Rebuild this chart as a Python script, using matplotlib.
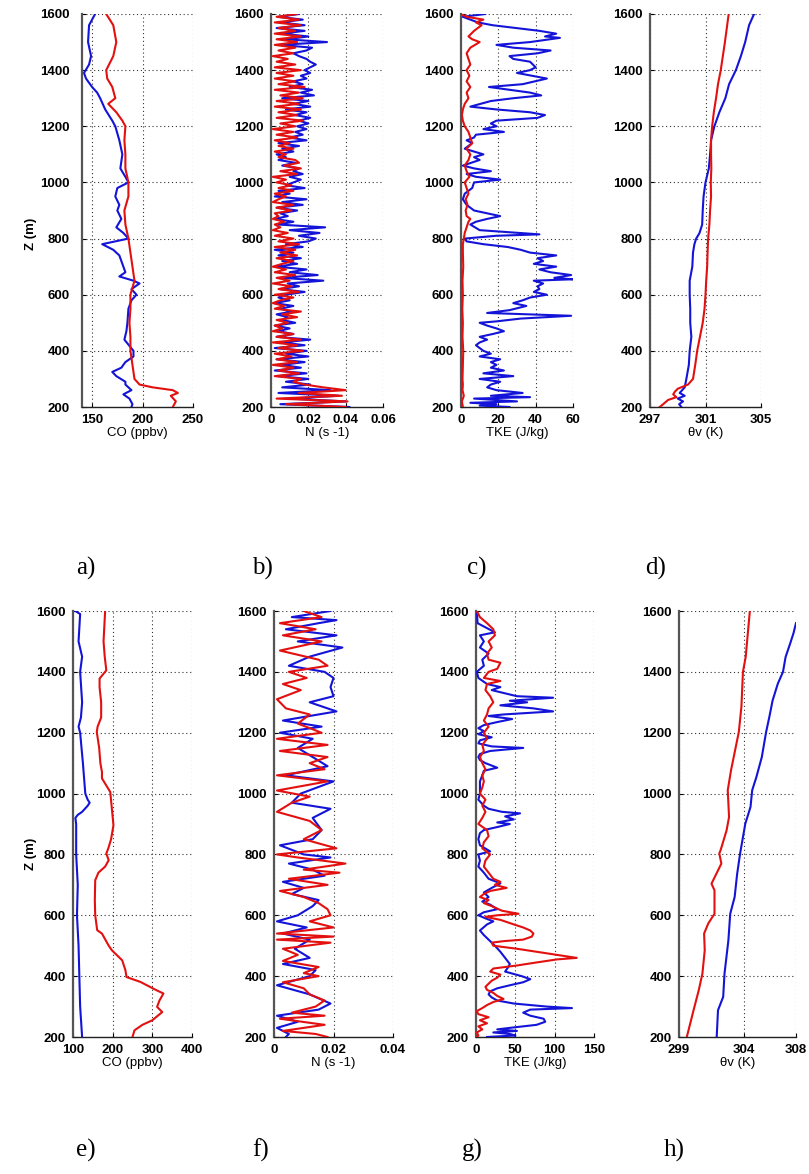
import matplotlib
matplotlib.use("Agg")
import matplotlib.pyplot as plt
from matplotlib.ticker import FixedLocator, FixedFormatter

# ---------------- DATA ----------------
# a) CO (ppbv)
a_blue_z = [200,210,230,245,260,280,290,310,325,340,360,380,400,440,470,500,550,580,600,620,
            640,650,665,680,700,720,740,760,780,800,820,840,870,900,920,950,980,1000,1020,1050,
            1100,1150,1200,1220,1260,1300,1320,1340,1370,1390,1420,1450,1500,1560,1600]
a_blue = [189,190,187,181,189,183,183,174,170,179,183,191,191,182,184,185,186,189,194,189,
          197,191,177,183,181,179,177,171,160,186,181,174,179,175,177,173,175,186,183,178,
          180,177,173,170,163,158,155,150,144,142,147,149,146,147,153]
a_red_z = [200,220,240,250,260,270,280,300,350,400,450,500,550,600,650,700,750,800,850,900,
           950,1000,1050,1100,1150,1200,1220,1250,1280,1300,1340,1370,1400,1450,1500,1560,1600]
a_red = [230,233,228,235,230,210,197,192,190,188,188,187,188,188,192,190,188,186,183,182,
         186,186,183,183,182,183,180,174,166,173,170,165,164,171,174,171,164]

# b) N (s-1), 10 m steps
b_z = list(range(200, 1601, 10))
b_blue = [0.042,0.005,0.040,0.010,0.036,0.004,0.032,0.006,0.021,0.008,
          0.020,0.004,0.019,0.002,0.016,0.006,0.018,0.003,0.020,0.008,
          0.019,0.002,0.018,0.006,0.021,0.003,0.012,0.004,0.010,0.002,
          0.013,0.006,0.009,0.003,0.011,0.005,0.012,0.002,0.010,0.004,
          0.008,0.018,0.005,0.015,0.009,0.028,0.006,0.025,0.010,0.019,
          0.003,0.014,0.006,0.016,0.004,0.012,0.002,0.017,0.008,0.020,
          0.024,0.015,0.026,0.010,0.029,0.004,0.012,0.002,0.009,0.005,
          0.014,0.003,0.017,0.006,0.019,0.002,0.010,0.004,0.018,0.008,
          0.012,0.016,0.010,0.017,0.012,0.015,0.006,0.013,0.004,0.008,
          0.003,0.012,0.006,0.015,0.004,0.019,0.010,0.017,0.013,0.019,
          0.014,0.020,0.015,0.021,0.013,0.019,0.008,0.021,0.012,0.020,
          0.006,0.023,0.016,0.022,0.010,0.017,0.012,0.019,0.016,0.021,
          0.018,0.021,0.024,0.021,0.019,0.015,0.012,0.019,0.022,0.005,
          0.030,0.008,0.020,0.006,0.018,0.003,0.018,0.005,0.017,0.004,
          0.015]
b_red = [0.040,0.008,0.041,0.003,0.038,0.015,0.040,0.028,0.018,0.012,
         0.016,0.002,0.015,0.004,0.012,0.001,0.014,0.003,0.011,0.002,
         0.017,0.004,0.014,0.001,0.016,0.003,0.012,0.001,0.006,0.002,
         0.009,0.003,0.014,0.006,0.016,0.002,0.007,0.001,0.005,0.012,
         0.002,0.015,0.004,0.011,0.001,0.010,0.003,0.013,0.002,0.008,
         0.001,0.006,0.012,0.003,0.014,0.005,0.013,0.002,0.015,0.004,
         0.012,0.002,0.009,0.001,0.005,0.002,0.007,0.001,0.004,0.002,
         0.011,0.003,0.012,0.001,0.004,0.008,0.002,0.012,0.004,0.011,
         0.003,0.008,0.001,0.014,0.005,0.016,0.007,0.015,0.013,0.004,
         0.008,0.002,0.012,0.004,0.010,0.002,0.014,0.003,0.012,0.001,
         0.013,0.005,0.017,0.003,0.014,0.004,0.016,0.002,0.015,0.003,
         0.017,0.005,0.015,0.002,0.018,0.004,0.013,0.002,0.012,0.003,
         0.016,0.002,0.013,0.003,0.009,0.001,0.012,0.004,0.013,0.002,
         0.014,0.003,0.016,0.002,0.013,0.004,0.016,0.002,0.015,0.003,
         0.014]

# c) TKE (J/kg)
c_blue_z = [200,205,210,215,220,230,235,240,250,260,270,280,290,300,310,320,330,340,350,360,
            370,380,390,400,420,430,440,450,460,470,480,490,500,505,515,525,535,545,560,570,
            580,590,600,610,620,630,640,650,655,660,670,680,690,700,710,720,730,740,750,760,
            770,780,790,800,810,815,830,850,860,870,880,900,920,940,960,980,1000,1010,1020,1030,
            1040,1050,1060,1080,1090,1100,1120,1140,1150,1160,1170,1180,1190,1200,1210,1220,1230,1240,1250,1260,
            1270,1290,1300,1310,1320,1330,1340,1350,1370,1390,1400,1410,1430,1440,1450,1460,1470,1480,1490,1500,
            1515,1520,1530,1540,1560,1570,1590,1600]
c_blue = [26,10,19,5,30,7,37,16,33,19,14,16,21,10,28,12,23,16,19,16,
          21,10,16,12,8,10,14,10,17,23,19,14,10,19,32,59,14,26,35,28,
          33,37,46,39,42,41,44,39,60,50,59,48,42,51,39,44,41,51,37,32,
          25,12,3,2,19,42,10,5,8,14,21,7,3,1,2,6,7,21,8,3,
          16,7,1,10,7,12,2,6,3,7,8,23,12,19,16,19,41,45,37,19,
          5,16,28,43,37,26,15,33,46,30,37,40,37,28,26,41,48,28,19,37,
          53,45,51,42,17,9,1,13]
c_red_z = [200,220,240,260,280,300,350,400,450,500,550,600,650,700,750,780,800,820,840,860,
           870,880,900,920,940,960,980,1000,1020,1040,1060,1080,1100,1120,1140,1160,1180,1200,1220,1240,
           1260,1280,1300,1320,1340,1360,1380,1400,1420,1440,1460,1480,1500,1510,1520,1540,1560,1570,1580,1590,1600]
c_red = [1,0.5,1.5,0.8,1,0.8,1,1.2,0.8,1,0.7,1,0.8,1.2,1,1,1.5,2,3,4,
         5,3,2.5,3.5,2.5,4,3,2,4.5,3,2,4,5,3,6,5,4,2,1,0.5,
         1,2,4,3,5,3,4.5,3,5,4,3,5,10,6,4,7,11,8,12,3,0]

# d) theta_v (K)
d_red_z = [200,210,225,235,245,255,265,280,300,350,400,450,500,550,600,650,700,750,800,850,
           900,950,1000,1050,1100,1150,1200,1250,1300,1350,1400,1500,1600]
d_red = [297.7,297.95,298.3,298.9,298.67,298.8,299.0,299.74,300.1,300.26,300.4,300.6,300.8,300.93,301.0,301.05,301.12,301.15,301.19,301.28,
         301.33,301.4,301.38,301.42,301.4,301.4,301.48,301.6,301.76,301.9,302.1,302.4,302.67]
d_blue_z = [200,210,220,230,240,250,270,300,350,400,450,500,550,600,650,700,750,780,800,820,
            850,900,950,1000,1050,1100,1150,1200,1250,1300,1350,1400,1450,1500,1560,1600]
d_blue = [299.26,299.1,299.38,299.0,299.5,299.14,299.5,299.62,299.8,299.86,299.98,299.9,299.9,299.86,299.86,300.05,300.1,300.2,300.33,300.57,
          300.76,300.8,300.86,301.0,301.24,301.33,301.4,301.64,302.0,302.43,302.7,303.19,303.55,303.86,304.14,304.5]

# e) CO (ppbv)
e_blue_z = [200,300,400,500,600,700,800,900,920,930,940,960,970,980,1000,1050,1100,1200,1220,1250,
            1300,1400,1450,1500,1590,1600]
e_blue = [123,118,116,114,110,112,108,108,106,112,123,137,142,137,131,128,125,118,114,120,
          123,118,123,114,118,106]
e_red_z = [200,222,240,255,282,299,320,343,354,381,397,420,452,485,500,540,551,600,650,715,
           740,760,781,803,820,850,896,950,1005,1050,1071,1100,1150,1202,1220,1250,1300,1350,1378,1405,
           1450,1500,1550,1600]
e_red = [250,255,275,300,325,312,318,328,310,270,235,232,224,198,190,173,161,156,155,156,
         164,181,190,184,189,196,202,198,194,173,173,169,166,160,162,171,171,167,167,184,
         180,177,179,181]

# f) N (s-1)
f_blue_z = [200,210,230,250,270,290,310,340,370,400,420,440,460,490,520,540,560,580,600,630,
            650,670,690,710,730,750,770,790,800,830,850,880,920,950,970,1000,1040,1060,1090,1120,
            1150,1180,1200,1220,1240,1270,1300,1320,1350,1380,1400,1420,1450,1480,1500,1520,1540,1560,1570,1580,1600]
f_blue = [0.004,0.005,0.001,0.008,0.001,0.015,0.019,0.012,0.001,0.012,0.014,0.003,0.012,0.007,0.012,0.003,0.011,0.001,0.008,0.013,
          0.015,0.006,0.010,0.003,0.017,0.013,0.005,0.019,0.010,0.002,0.013,0.016,0.013,0.019,0.006,0.009,0.020,0.004,0.018,0.013,
          0.008,0.013,0.002,0.016,0.003,0.021,0.012,0.020,0.019,0.020,0.017,0.005,0.012,0.023,0.008,0.021,0.004,0.015,0.021,0.006,0.019]
f_red_z = [200,210,220,240,260,270,280,300,320,340,360,380,400,410,430,450,470,490,510,520,
           530,540,560,580,600,620,640,660,680,700,720,740,750,770,790,800,820,850,880,910,
           940,970,990,1010,1040,1060,1080,1100,1120,1140,1160,1180,1200,1230,1260,1280,1310,1340,1360,1380,
           1400,1420,1440,1470,1500,1520,1540,1560,1580,1600]
f_red = [0.018,0.014,0.003,0.017,0.002,0.017,0.006,0.014,0.017,0.012,0.010,0.003,0.015,0.010,0.015,0.003,0.008,0.003,0.019,0.001,
         0.020,0.001,0.020,0.012,0.019,0.018,0.015,0.010,0.002,0.018,0.005,0.022,0.010,0.024,0.008,0.001,0.021,0.010,0.016,0.012,
         0.001,0.006,0.012,0.001,0.018,0.001,0.017,0.012,0.018,0.002,0.018,0.001,0.016,0.008,0.012,0.004,0.001,0.009,0.003,0.011,
         0.005,0.018,0.015,0.002,0.016,0.003,0.014,0.002,0.016,0.010]

# g) TKE (J/kg)
g_blue_z = [200,205,210,215,220,225,230,240,250,260,270,280,290,295,300,310,320,330,340,350,
            360,370,380,390,400,415,430,440,460,480,500,520,535,550,570,580,590,600,610,620,
            635,645,660,675,690,705,720,740,760,780,800,810,830,850,870,880,890,900,905,915,
            925,935,940,950,960,980,1000,1020,1040,1060,1075,1085,1100,1110,1120,1130,1140,1150,1155,1165,
            1175,1185,1195,1205,1215,1225,1235,1245,1255,1260,1270,1280,1290,1300,1305,1315,1320,1340,1350,1360,
            1380,1400,1420,1440,1460,1480,1500,1520,1530,1560,1600]
g_blue = [14,50,43,22,52,27,43,77,88,86,69,60,69,122,90,48,27,20,16,18,
          27,43,60,69,58,37,41,43,37,31,24,16,10,5,14,22,12,3,10,27,
          18,8,16,10,20,31,16,10,3,5,3,18,5,3,5,10,27,43,27,48,
          37,56,33,16,10,3,5,5,5,8,10,27,12,5,3,5,18,60,20,3,
          5,20,3,10,3,10,27,46,16,35,98,73,31,65,43,98,52,20,31,14,
          3,1,10,8,16,5,10,5,24,2,1]
g_red_z = [200,205,215,225,235,245,255,265,275,285,295,305,315,325,335,345,355,365,375,385,
           395,405,415,425,435,445,455,460,475,490,500,510,515,520,530,540,550,560,570,585,
           595,600,605,615,630,640,650,660,670,680,690,700,710,720,740,760,780,800,820,840,
           860,880,900,920,940,960,980,1000,1020,1040,1060,1080,1100,1120,1140,1160,1180,1200,1220,1240,
           1260,1280,1300,1320,1340,1360,1370,1380,1400,1410,1430,1440,1460,1480,1500,1520,1540,1560,1580,1600]
g_red = [1,3,1,8,3,14,5,16,3,1,8,14,22,35,27,22,14,12,16,20,
         27,31,18,22,52,77,103,128,90,52,22,20,35,60,71,73,69,60,48,31,
         12,27,54,33,20,10,16,5,10,18,39,24,31,22,16,10,12,18,8,10,
         16,14,3,8,12,8,12,5,8,10,8,12,8,5,10,8,14,10,16,10,
         14,16,22,18,12,14,31,10,16,27,31,16,14,20,16,24,22,14,5,1]

# h) theta_v (K)
h_red_z = [200,244,288,354,408,485,540,573,605,682,704,770,803,814,879,923,1011,1076,1175,1202,
           1285,1400,1449,1600]
h_red = [299.6,299.86,300.12,300.52,300.8,300.98,300.93,301.25,301.73,301.73,301.5,302.26,302.1,302.2,302.66,302.85,302.75,303.0,303.47,303.6,
         303.8,303.92,304.13,304.45]
h_blue_z = [200,288,332,408,518,605,660,735,803,901,956,1011,1054,1120,1202,1252,1306,1361,1400,1449,
            1493,1526,1560]
h_blue = [301.9,302.0,302.4,302.5,302.8,302.94,303.28,303.47,303.7,304.1,304.5,304.63,304.95,305.37,305.7,305.95,306.2,306.6,307.0,307.2,
          307.55,307.8,308.0]

# ---------------- PLOT ----------------
plt.rcParams['font.family'] = ['Liberation Sans', 'DejaVu Sans']
RED = '#e31010'
BLUE = '#1414d8'
W, H = 809, 1174
fig = plt.figure(figsize=(W / 100, H / 100), dpi=100)

def px_axes(x0, x1, y0, y1):
    return fig.add_axes([x0 / W, 1 - y1 / H, (x1 - x0) / W, (y1 - y0) / H])

panels = [
    # (x0, x1, y0, y1, xlim, xticks, xticklabels, xlabel, letter, letter_x, letter_y, ypad)
    (82, 193, 14, 407, (140, 250), [150, 200, 250], ['150', '200', '250'], 'CO (ppbv)', 'a)', 76, 568, 9),
    (271, 383, 14, 407, (0, 0.06), [0, 0.02, 0.04, 0.06], ['0', '0.02', '0.04', '0.06'], 'N (s -1)', 'b)', 252, 568, 5),
    (461, 573, 14, 407, (0, 60), [0, 20, 40, 60], ['0', '20', '40', '60'], 'TKE (J/kg)', 'c)', 467, 568, 5),
    (650, 761, 14, 407, (297, 305), [297, 301, 305], ['297', '301', '305'], 'θv (K)', 'd)', 645, 568, 5),
    (73, 192, 611, 1037, (100, 400), [100, 200, 300, 400], ['100', '200', '300', '400'], 'CO (ppbv)', 'e)', 76, 1150, 5),
    (274, 393, 611, 1037, (0, 0.04), [0, 0.02, 0.04], ['0', '0.02', '0.04'], 'N (s -1)', 'f)', 252, 1150, 5),
    (476, 594, 611, 1037, (0, 150), [0, 50, 100, 150], ['0', '50', '100', '150'], 'TKE (J/kg)', 'g)', 462, 1150, 5),
    (679, 796, 611, 1037, (299, 308), [299, 304, 308], ['299', '304', '308'], 'θv (K)', 'h)', 664, 1150, 5),
]

series = [
    ((a_blue, a_blue_z), (a_red, a_red_z)),
    ((b_blue, b_z), (b_red, b_z)),
    ((c_blue, c_blue_z), (c_red, c_red_z)),
    ((d_blue, d_blue_z), (d_red, d_red_z)),
    ((e_blue, e_blue_z), (e_red, e_red_z)),
    ((f_blue, f_blue_z), (f_red, f_red_z)),
    ((g_blue, g_blue_z), (g_red, g_red_z)),
    ((h_blue, h_blue_z), (h_red, h_red_z)),
]

for i, (p, s) in enumerate(zip(panels, series)):
    x0, x1, y0, y1, xlim, xt, xtl, xlabel, letter, lx, ly, ypad = p
    ax = px_axes(x0, x1, y0, y1)
    (bv, bz), (rv, rz) = s
    ax.plot(bv, bz, color=BLUE, lw=1.5, zorder=3)
    ax.plot(rv, rz, color=RED, lw=1.5, zorder=4)
    ax.set_xlim(*xlim)
    ax.set_ylim(200, 1600)
    ax.xaxis.set_major_locator(FixedLocator(xt))
    ax.xaxis.set_major_formatter(FixedFormatter(xtl))
    ax.set_yticks(list(range(200, 1601, 200)))
    ax.grid(True, linestyle=(0, (1, 2.5)), color='#333333', lw=0.8)
    ax.set_axisbelow(True)
    for sp in ('top', 'right'):
        ax.spines[sp].set_visible(False)
    ax.spines['left'].set_color('#555555')
    ax.spines['left'].set_linewidth(1.6)
    ax.spines['bottom'].set_color('#222222')
    ax.spines['bottom'].set_linewidth(1.0)
    ax.tick_params(direction='in', length=3, width=0.8, labelsize=9.5)
    ax.tick_params(axis='x', pad=5)
    ax.tick_params(axis='y', pad=ypad)
    for lab in ax.get_xticklabels() + ax.get_yticklabels():
        lab.set_fontweight('bold')
    ax.set_xlabel(xlabel, fontsize=9.5, labelpad=1)
    if i in (0, 4):
        ax.set_ylabel('Z (m)', fontsize=9.5, fontweight='bold')
        if i == 0:
            ax.yaxis.set_label_coords((37 - x0) / (x1 - x0), 0.44)
        else:
            ax.yaxis.set_label_coords((37 - x0) / (x1 - x0), 0.43)
    fig.text(lx / W, 1 - ly / H, letter, fontsize=18, family=['Liberation Serif', 'DejaVu Serif'],
             ha='left', va='center')

fig.savefig('out.png', dpi=100)
